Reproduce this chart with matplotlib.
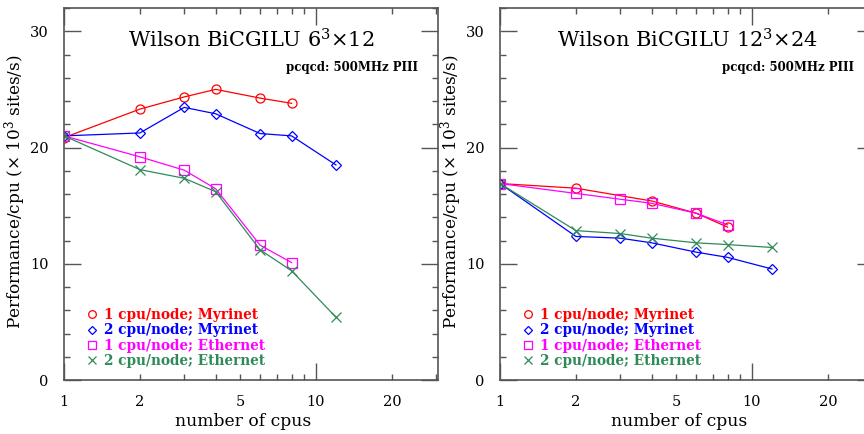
import matplotlib
matplotlib.use('Agg')
from matplotlib import pyplot as plt
from matplotlib.lines import Line2D
from matplotlib.ticker import FixedLocator, FuncFormatter, MultipleLocator

plt.rcParams['font.family'] = 'DejaVu Serif'
plt.rcParams['mathtext.fontset'] = 'dejavuserif'

# --- data -------------------------------------------------------------------
small_cpus = [1, 2, 4, 6, 8]
mid_cpus = [1, 2, 3, 4, 6, 8]
all_cpus = [1, 2, 3, 4, 6, 8, 12]

# 6^3 x 12 lattice
small_myr1 = [20.85, 23.3, 24.35, 25.0, 24.25, 23.8]
small_myr2 = [21.0, 21.25, 23.45, 22.9, 21.2, 21.0, 18.5]
small_eth1 = [21.0, 19.2, 18.05, 16.45, 11.6, 10.1]
small_eth2 = [21.0, 18.1, 17.35, 16.2, 11.2, 9.4, 5.4]

# 12^3 x 24 lattice
big_myr1 = [16.9, 16.5, 15.4, 14.35, 13.15]
big_myr2 = [16.9, 12.35, 12.2, 11.8, 11.0, 10.55, 9.55]
big_eth1 = [16.9, 16.05, 15.55, 15.2, 14.35, 13.35]
big_eth2 = [16.9, 12.85, 12.6, 12.2, 11.8, 11.65, 11.4]

labels = ['1 cpu/node; Myrinet', '2 cpu/node; Myrinet',
          '1 cpu/node; Ethernet', '2 cpu/node; Ethernet']
colors = ['#ff0000', '#0000ff', '#ff00ff', '#2e8b57']
markers = ['o', 'D', 's', 'x']
msizes = [6.5, 5, 6.5, 6.5]

panels = [
    (r'Wilson BiCGILU 6$^3$$\times$12',
     [(mid_cpus, small_myr1), (all_cpus, small_myr2),
      (mid_cpus, small_eth1), (all_cpus, small_eth2)]),
    (r'Wilson BiCGILU 12$^3$$\times$24',
     [(small_cpus, big_myr1), (all_cpus, big_myr2),
      (mid_cpus, big_eth1), (all_cpus, big_eth2)]),
]

fig = plt.figure(figsize=(8.64, 4.34), dpi=100)
axes_left = [64 / 864, 500 / 864]
ylabel_x = [-0.095, -0.095]
ax_w = 374 / 864
ax_b = 54 / 434
ax_h = 372 / 434

grey = '#555555'


def minor_label(x, pos):
    return '%d' % round(x) if round(x) in (2, 5, 20) else ''


for left, lx, (title, series) in zip(axes_left, ylabel_x, panels):
    ax = fig.add_axes([left, ax_b, ax_w, ax_h])
    for (xs, ys), c, m, ms in zip(series, colors, markers, msizes):
        ax.plot(xs, ys, color=c, lw=0.9, marker=m, ms=ms,
                mfc='none', mec=c, mew=0.9)

    ax.set_xscale('log')
    ax.set_xlim(1, 30.5)
    ax.set_ylim(0, 32)
    ax.xaxis.set_major_locator(FixedLocator([1, 10]))
    ax.xaxis.set_major_formatter(FuncFormatter(lambda x, p: '%d' % round(x)))
    ax.xaxis.set_minor_locator(FixedLocator([2, 3, 4, 5, 6, 7, 8, 9, 20, 30]))
    ax.xaxis.set_minor_formatter(FuncFormatter(minor_label))
    ax.yaxis.set_major_locator(MultipleLocator(10))
    ax.yaxis.set_minor_locator(MultipleLocator(2))

    ax.tick_params(which='both', direction='in', top=True, right=True,
                   color=grey, width=1.0, labelsize=10.5)
    ax.tick_params(which='major', length=12)
    ax.tick_params(which='minor', length=4.5)
    ax.tick_params(axis='x', which='both', pad=11)
    ax.tick_params(axis='y', which='both', pad=11)
    for sp in ax.spines.values():
        sp.set_color(grey)
        sp.set_linewidth(1.2)

    ax.set_xlabel('number of cpus', fontsize=12.3)
    ax.xaxis.set_label_coords(0.48, -0.088)
    ax.set_ylabel(r'Performance/cpu ($\times$ 10$^3$ sites/s)', fontsize=12.2)
    ax.yaxis.set_label_coords(lx, 0.505)

    ax.text(0.5, 0.915, title, transform=ax.transAxes, ha='center',
            va='center', fontsize=15)
    ax.text(0.947, 0.84, 'pcqcd: 500MHz PIII', transform=ax.transAxes,
            ha='right', va='center', fontsize=8.5, fontweight='bold')

    handles = [Line2D([], [], ls='none', marker=m, ms=ms * 0.85, mfc='none',
                      mec=c, mew=0.9)
               for c, m, ms in zip(colors, markers, msizes)]
    ax.legend(handles, labels, loc='lower left', bbox_to_anchor=(0.063, 0.032),
              frameon=False, borderpad=0, borderaxespad=0, handlelength=0.7,
              handletextpad=0.5, labelspacing=0.1, labelcolor=colors,
              prop={'size': 9.8, 'weight': 'bold'})

fig.savefig('out.png', dpi=100)
